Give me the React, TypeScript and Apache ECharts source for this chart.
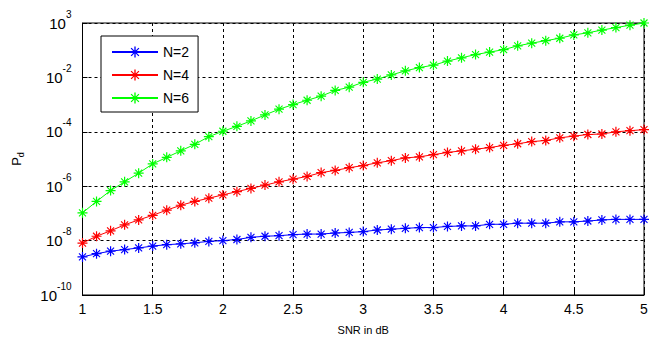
import React, { useEffect, useRef } from "react";
import * as echarts from "echarts";

// SNR in dB (x positions of the markers)
const snr = [
  1.0, 1.1, 1.2, 1.3, 1.4, 1.5, 1.6, 1.7, 1.8, 1.9,
  2.0, 2.1, 2.2, 2.3, 2.4, 2.5, 2.6, 2.7, 2.8, 2.9,
  3.0, 3.1, 3.2, 3.3, 3.4, 3.5, 3.6, 3.7, 3.8, 3.9,
  4.0, 4.1, 4.2, 4.3, 4.4, 4.5, 4.6, 4.7, 4.8, 4.9, 5.0,
];

// Pd values, given as log10 exponents
const n2Exp = [
  -8.6, -8.48, -8.39, -8.33, -8.27, -8.2, -8.15, -8.12, -8.08, -8.03,
  -8.0, -7.96, -7.88, -7.84, -7.82, -7.78, -7.76, -7.76, -7.72, -7.7,
  -7.67, -7.61, -7.58, -7.55, -7.52, -7.52, -7.48, -7.46, -7.46, -7.4,
  -7.4, -7.36, -7.36, -7.36, -7.31, -7.31, -7.28, -7.24, -7.22, -7.22, -7.22,
];
const n4Exp = [
  -8.09, -7.84, -7.64, -7.42, -7.24, -7.07, -6.88, -6.7, -6.56, -6.44,
  -6.32, -6.2, -6.08, -5.96, -5.84, -5.74, -5.64, -5.5, -5.42, -5.32,
  -5.24, -5.14, -5.06, -4.96, -4.92, -4.84, -4.76, -4.7, -4.64, -4.58,
  -4.5, -4.44, -4.36, -4.32, -4.22, -4.16, -4.1, -4.08, -4.0, -3.96, -3.92,
];
const n6Exp = [
  -6.98, -6.56, -6.16, -5.84, -5.52, -5.18, -4.94, -4.7, -4.46, -4.18,
  -3.98, -3.8, -3.6, -3.38, -3.17, -3.0, -2.84, -2.69, -2.48, -2.36,
  -2.18, -2.06, -1.91, -1.76, -1.64, -1.55, -1.4, -1.28, -1.16, -1.07,
  -0.98, -0.84, -0.74, -0.65, -0.56, -0.44, -0.36, -0.26, -0.17, -0.08, 0.0,
];

const seriesNames = ["N=2", "N=4", "N=6"];
const seriesColors = ["#0000ff", "#ff0000", "#00ff00"];
const seriesExps = [n2Exp, n4Exp, n6Exp];

const xTicks = ["1", "1.5", "2", "2.5", "3", "3.5", "4", "4.5", "5"];
const yTickExps = ["-10", "-8", "-6", "-4", "-2", "3"];

const FONT = "Liberation Sans, Arial, Helvetica, sans-serif";

const asterisk =
  "path://M-0.6,-5L0.6,-5L0.6,5L-0.6,5Z" +
  "M-5,-0.6L5,-0.6L5,0.6L-5,0.6Z" +
  "M-3.1,-3.9L3.9,3.1L3.1,3.9L-3.9,-3.1Z" +
  "M-3.9,3.1L3.1,-3.9L3.9,-3.1L-3.1,3.9Z";

export default function App() {
  const ref = useRef<HTMLDivElement>(null);

  useEffect(() => {
    document.body.style.margin = "0";
    const chart = echarts.init(ref.current!, null, { renderer: "svg" });
    const dashed = { show: true, lineStyle: { color: "#000", type: [3, 3], width: 1 } };
    chart.setOption({
      animation: false,
      backgroundColor: "#fff",
      grid: {
        left: 79,
        right: 20,
        top: 23,
        bottom: 40,
        show: true,
        borderColor: "#000",
        borderWidth: 1,
        backgroundColor: "transparent",
      },
      legend: {
        orient: "vertical",
        left: 101,
        top: 36,
        data: seriesNames,
        itemWidth: 46,
        itemHeight: 14,
        itemGap: 9,
        padding: [9, 9, 7, 10],
        borderColor: "#000",
        borderWidth: 1,
        backgroundColor: "#fff",
        textStyle: { fontFamily: FONT, fontSize: 14, color: "#000" },
      },
      xAxis: {
        type: "value",
        min: 1,
        max: 5,
        interval: 0.5,
        name: "SNR in dB",
        nameLocation: "middle",
        nameGap: 29,
        nameTextStyle: { fontFamily: FONT, fontSize: 11, color: "#000" },
        axisLine: { show: true, lineStyle: { color: "#000", width: 1 } },
        axisTick: { show: true, inside: true, length: 5, lineStyle: { color: "#000" } },
        axisLabel: {
          margin: 7,
          fontFamily: FONT,
          fontSize: 14,
          color: "#000",
          formatter: (_v: number, i: number) => xTicks[i] ?? "",
        },
        splitLine: dashed,
      },
      yAxis: {
        type: "log",
        logBase: 100,
        min: 1e-10,
        max: 1,
        name: "{p|P}{d|d}",
        nameLocation: "middle",
        nameRotate: 90,
        nameGap: 56,
        nameTextStyle: {
          fontFamily: FONT,
          color: "#000",
          rich: {
            p: { fontFamily: FONT, fontSize: 13, color: "#000", lineHeight: 20 },
            d: { fontFamily: FONT, fontSize: 9, color: "#000", lineHeight: 20, padding: [8, 0, 0, 0] },
          },
        },
        axisLine: { show: true, lineStyle: { color: "#000", width: 1 } },
        axisTick: { show: true, inside: true, length: 5, lineStyle: { color: "#000" } },
        axisLabel: {
          margin: 11,
          formatter: (_v: number, i: number) => `{b|10}{e|${yTickExps[i] ?? ""}}`,
          rich: {
            b: { fontFamily: FONT, fontSize: 15, color: "#000", lineHeight: 20 },
            e: { fontFamily: FONT, fontSize: 10, color: "#000", lineHeight: 10, padding: [0, 0, 18, 0] },
          },
        },
        splitLine: dashed,
      },
      series: seriesNames.map((name, k) => ({
        name,
        type: "line",
        data: snr.map((x, i) => [x, Math.pow(10, seriesExps[k][i])]),
        symbol: asterisk,
        symbolSize: 10,
        showSymbol: true,
        color: seriesColors[k],
        lineStyle: { color: seriesColors[k], width: 1 },
        itemStyle: { color: seriesColors[k] },
      })),
    });
    return () => chart.dispose();
  }, []);

  return (
    <div
      ref={ref}
      style={{ width: 664, height: 340, position: "absolute", left: 0, top: 0 }}
    />
  );
}
